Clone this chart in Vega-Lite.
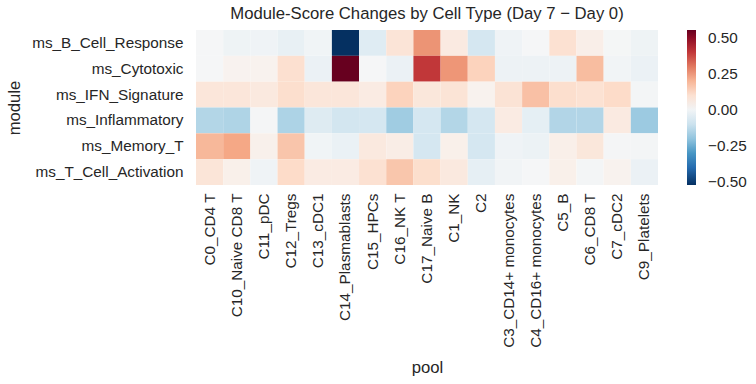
{
  "$schema": "https://vega.github.io/schema/vega-lite/v6.json",
  "autosize": "none",
  "width": 462,
  "height": 155,
  "padding": {"left": 196, "top": 30, "right": 98, "bottom": 199},
  "background": "white",
  "title": {"text": "Module-Score Changes by Cell Type (Day 7 − Day 0)", "font": "Liberation Sans", "fontSize": 16.7, "fontWeight": "normal", "color": "#262626", "offset": 7},
  "config": {"view": {"stroke": null}, "font": "Liberation Sans"},
  "data": {"values": [
    {"m":"ms_B_Cell_Response","p":"C0_CD4 T","v":0.01},
    {"m":"ms_B_Cell_Response","p":"C10_Naive CD8 T","v":-0.009},
    {"m":"ms_B_Cell_Response","p":"C11_pDC","v":-0.006},
    {"m":"ms_B_Cell_Response","p":"C12_Tregs","v":-0.026},
    {"m":"ms_B_Cell_Response","p":"C13_cDC1","v":-0.003},
    {"m":"ms_B_Cell_Response","p":"C14_Plasmablasts","v":-0.52},
    {"m":"ms_B_Cell_Response","p":"C15_HPCs","v":-0.051},
    {"m":"ms_B_Cell_Response","p":"C16_NK T","v":0.089},
    {"m":"ms_B_Cell_Response","p":"C17_Naive B","v":0.258},
    {"m":"ms_B_Cell_Response","p":"C1_NK","v":0.066},
    {"m":"ms_B_Cell_Response","p":"C2","v":-0.08},
    {"m":"ms_B_Cell_Response","p":"C3_CD14+ monocytes","v":-0.006},
    {"m":"ms_B_Cell_Response","p":"C4_CD16+ monocytes","v":0.01},
    {"m":"ms_B_Cell_Response","p":"C5_B","v":0.1},
    {"m":"ms_B_Cell_Response","p":"C6_CD8 T","v":0.05},
    {"m":"ms_B_Cell_Response","p":"C7_cDC2","v":0.008},
    {"m":"ms_B_Cell_Response","p":"C9_Platelets","v":-0.009},
    {"m":"ms_Cytotoxic","p":"C0_CD4 T","v":0.01},
    {"m":"ms_Cytotoxic","p":"C10_Naive CD8 T","v":0.035},
    {"m":"ms_Cytotoxic","p":"C11_pDC","v":0.037},
    {"m":"ms_Cytotoxic","p":"C12_Tregs","v":0.104},
    {"m":"ms_Cytotoxic","p":"C13_cDC1","v":-0.017},
    {"m":"ms_Cytotoxic","p":"C14_Plasmablasts","v":0.553},
    {"m":"ms_Cytotoxic","p":"C15_HPCs","v":0.01},
    {"m":"ms_Cytotoxic","p":"C16_NK T","v":-0.017},
    {"m":"ms_Cytotoxic","p":"C17_Naive B","v":0.4},
    {"m":"ms_Cytotoxic","p":"C1_NK","v":0.254},
    {"m":"ms_Cytotoxic","p":"C2","v":0.14},
    {"m":"ms_Cytotoxic","p":"C3_CD14+ monocytes","v":-0.011},
    {"m":"ms_Cytotoxic","p":"C4_CD16+ monocytes","v":-0.011},
    {"m":"ms_Cytotoxic","p":"C5_B","v":-0.011},
    {"m":"ms_Cytotoxic","p":"C6_CD8 T","v":0.184},
    {"m":"ms_Cytotoxic","p":"C7_cDC2","v":0.0},
    {"m":"ms_Cytotoxic","p":"C9_Platelets","v":-0.017},
    {"m":"ms_IFN_Signature","p":"C0_CD4 T","v":0.082},
    {"m":"ms_IFN_Signature","p":"C10_Naive CD8 T","v":0.082},
    {"m":"ms_IFN_Signature","p":"C11_pDC","v":0.07},
    {"m":"ms_IFN_Signature","p":"C12_Tregs","v":0.108},
    {"m":"ms_IFN_Signature","p":"C13_cDC1","v":0.082},
    {"m":"ms_IFN_Signature","p":"C14_Plasmablasts","v":0.082},
    {"m":"ms_IFN_Signature","p":"C15_HPCs","v":0.062},
    {"m":"ms_IFN_Signature","p":"C16_NK T","v":0.14},
    {"m":"ms_IFN_Signature","p":"C17_Naive B","v":0.078},
    {"m":"ms_IFN_Signature","p":"C1_NK","v":0.09},
    {"m":"ms_IFN_Signature","p":"C2","v":0.037},
    {"m":"ms_IFN_Signature","p":"C3_CD14+ monocytes","v":0.093},
    {"m":"ms_IFN_Signature","p":"C4_CD16+ monocytes","v":0.177},
    {"m":"ms_IFN_Signature","p":"C5_B","v":0.108},
    {"m":"ms_IFN_Signature","p":"C6_CD8 T","v":0.097},
    {"m":"ms_IFN_Signature","p":"C7_cDC2","v":0.12},
    {"m":"ms_IFN_Signature","p":"C9_Platelets","v":0.005},
    {"m":"ms_Inflammatory","p":"C0_CD4 T","v":-0.142},
    {"m":"ms_Inflammatory","p":"C10_Naive CD8 T","v":-0.148},
    {"m":"ms_Inflammatory","p":"C11_pDC","v":0.007},
    {"m":"ms_Inflammatory","p":"C12_Tregs","v":-0.152},
    {"m":"ms_Inflammatory","p":"C13_cDC1","v":-0.054},
    {"m":"ms_Inflammatory","p":"C14_Plasmablasts","v":-0.085},
    {"m":"ms_Inflammatory","p":"C15_HPCs","v":-0.08},
    {"m":"ms_Inflammatory","p":"C16_NK T","v":-0.174},
    {"m":"ms_Inflammatory","p":"C17_Naive B","v":-0.08},
    {"m":"ms_Inflammatory","p":"C1_NK","v":-0.142},
    {"m":"ms_Inflammatory","p":"C2","v":-0.08},
    {"m":"ms_Inflammatory","p":"C3_CD14+ monocytes","v":0.062},
    {"m":"ms_Inflammatory","p":"C4_CD16+ monocytes","v":-0.034},
    {"m":"ms_Inflammatory","p":"C5_B","v":-0.143},
    {"m":"ms_Inflammatory","p":"C6_CD8 T","v":-0.143},
    {"m":"ms_Inflammatory","p":"C7_cDC2","v":0.065},
    {"m":"ms_Inflammatory","p":"C9_Platelets","v":-0.181},
    {"m":"ms_Memory_T","p":"C0_CD4 T","v":0.194},
    {"m":"ms_Memory_T","p":"C10_Naive CD8 T","v":0.225},
    {"m":"ms_Memory_T","p":"C11_pDC","v":0.043},
    {"m":"ms_Memory_T","p":"C12_Tregs","v":0.168},
    {"m":"ms_Memory_T","p":"C13_cDC1","v":-0.003},
    {"m":"ms_Memory_T","p":"C14_Plasmablasts","v":-0.02},
    {"m":"ms_Memory_T","p":"C15_HPCs","v":0.07},
    {"m":"ms_Memory_T","p":"C16_NK T","v":0.055},
    {"m":"ms_Memory_T","p":"C17_Naive B","v":-0.08},
    {"m":"ms_Memory_T","p":"C1_NK","v":0.045},
    {"m":"ms_Memory_T","p":"C2","v":-0.08},
    {"m":"ms_Memory_T","p":"C3_CD14+ monocytes","v":-0.006},
    {"m":"ms_Memory_T","p":"C4_CD16+ monocytes","v":-0.014},
    {"m":"ms_Memory_T","p":"C5_B","v":0.047},
    {"m":"ms_Memory_T","p":"C6_CD8 T","v":0.078},
    {"m":"ms_Memory_T","p":"C7_cDC2","v":0.007},
    {"m":"ms_Memory_T","p":"C9_Platelets","v":0.004},
    {"m":"ms_T_Cell_Activation","p":"C0_CD4 T","v":0.085},
    {"m":"ms_T_Cell_Activation","p":"C10_Naive CD8 T","v":0.045},
    {"m":"ms_T_Cell_Activation","p":"C11_pDC","v":-0.006},
    {"m":"ms_T_Cell_Activation","p":"C12_Tregs","v":0.12},
    {"m":"ms_T_Cell_Activation","p":"C13_cDC1","v":0.062},
    {"m":"ms_T_Cell_Activation","p":"C14_Plasmablasts","v":0.062},
    {"m":"ms_T_Cell_Activation","p":"C15_HPCs","v":0.1},
    {"m":"ms_T_Cell_Activation","p":"C16_NK T","v":0.166},
    {"m":"ms_T_Cell_Activation","p":"C17_Naive B","v":0.11},
    {"m":"ms_T_Cell_Activation","p":"C1_NK","v":0.07},
    {"m":"ms_T_Cell_Activation","p":"C2","v":-0.032},
    {"m":"ms_T_Cell_Activation","p":"C3_CD14+ monocytes","v":-0.001},
    {"m":"ms_T_Cell_Activation","p":"C4_CD16+ monocytes","v":0.01},
    {"m":"ms_T_Cell_Activation","p":"C5_B","v":0.045},
    {"m":"ms_T_Cell_Activation","p":"C6_CD8 T","v":0.005},
    {"m":"ms_T_Cell_Activation","p":"C7_cDC2","v":0.037},
    {"m":"ms_T_Cell_Activation","p":"C9_Platelets","v":-0.017}
  ]},
  "mark": {"type": "rect"},
  "encoding": {
    "x": {"field": "p", "type": "nominal", "title": "pool",
      "sort": ["C0_CD4 T","C10_Naive CD8 T","C11_pDC","C12_Tregs","C13_cDC1","C14_Plasmablasts","C15_HPCs","C16_NK T","C17_Naive B","C1_NK","C2","C3_CD14+ monocytes","C4_CD16+ monocytes","C5_B","C6_CD8 T","C7_cDC2","C9_Platelets"],
      "scale": {"paddingInner": 0, "paddingOuter": 0},
      "axis": {"labelAngle": -90, "labelFontSize": 15.3, "labelColor": "#262626", "titleFontSize": 16.7, "titleFontWeight": "normal", "titleColor": "#262626", "domain": false, "ticks": false, "labelPadding": 8, "titlePadding": 12}},
    "y": {"field": "m", "type": "nominal", "title": "module",
      "sort": ["ms_B_Cell_Response","ms_Cytotoxic","ms_IFN_Signature","ms_Inflammatory","ms_Memory_T","ms_T_Cell_Activation"],
      "scale": {"paddingInner": 0, "paddingOuter": 0},
      "axis": {"labelFontSize": 15.3, "labelColor": "#262626", "titleFontSize": 16.7, "titleFontWeight": "normal", "titleColor": "#262626", "domain": false, "ticks": false, "labelPadding": 13, "titlePadding": 8}},
    "color": {"field": "v", "type": "quantitative",
      "scale": {"type": "linear", "interpolate": "rgb",
        "domain": [-0.52, -0.4127, -0.3054, -0.1981, -0.0908, 0.0165, 0.1238, 0.2311, 0.3384, 0.4457, 0.553],
        "range": ["#053061","#2166ac","#4393c3","#92c5de","#d1e5f0","#f7f7f7","#fddbc7","#f4a582","#d6604d","#b2182b","#67001f"]},
      "legend": {"title": null, "values": [-0.5, -0.25, 0, 0.25, 0.5], "format": ".2f", "gradientLength": 155, "gradientThickness": 9, "offset": 29, "labelFontSize": 15.3, "labelColor": "#262626", "labelOffset": 12, "gradientStrokeWidth": 0}}
  }
}
